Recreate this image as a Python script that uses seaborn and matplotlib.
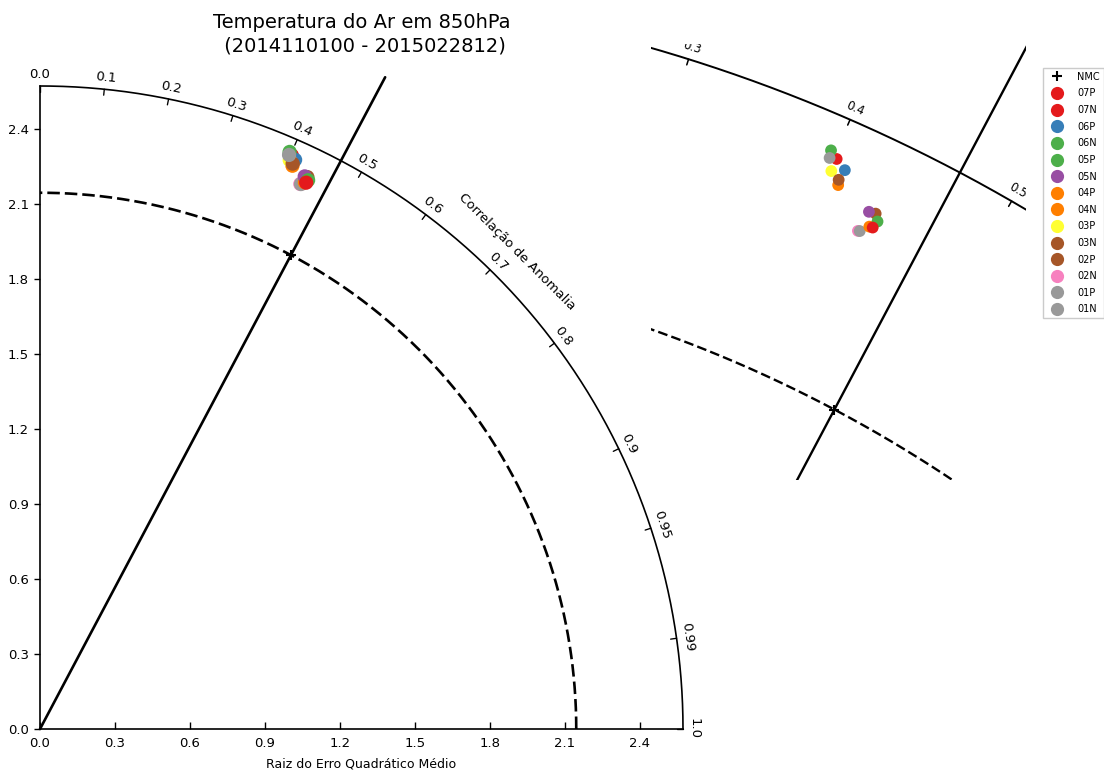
import numpy as np
import pandas as pd
import matplotlib
matplotlib.use("Agg")
import matplotlib.pyplot as plt
import seaborn as sns
from matplotlib.lines import Line2D

# ---------------- data ----------------
title = "Temperatura do Ar em 850hPa\n (2014110100 - 2015022812)"
xlabel = "Raiz do Erro Quadrático Médio"
corr_axis_label = "Correlação de Anomalia"

labels = ["07P", "07N", "06P", "06N", "05P", "05N", "04P", "04N",
          "03P", "03N", "02P", "02N", "01P", "01N"]
colors = ["#e41a1c", "#e41a1c", "#377eb8", "#4daf4a", "#4daf4a", "#984ea3",
          "#ff7f00", "#ff7f00", "#ffff33", "#a65628", "#a65628", "#f781bf",
          "#999999", "#999999"]
stddev = [2.506, 2.431, 2.495, 2.443, 2.515, 2.451, 2.469, 2.430,
          2.485, 2.453, 2.477, 2.416, 2.503, 2.417]
corrcoef = [0.402, 0.438, 0.409, 0.439, 0.397, 0.432, 0.409, 0.436,
            0.402, 0.436, 0.408, 0.431, 0.398, 0.432]
draw_order = ["07P", "06P", "05P", "04P", "03P", "02P", "01P",
              "02N", "01N", "03N", "04N", "05N", "06N", "07N"]

ref_label = "NMC"
ref_std = 2.145
ref_corr = 0.468
max_std = 2.572

rmse_ticks = [0.0, 0.3, 0.6, 0.9, 1.2, 1.5, 1.8, 2.1, 2.4]
rmse_ticklabels = ["0.0", "0.3", "0.6", "0.9", "1.2", "1.5", "1.8", "2.1", "2.4"]
corr_ticks = [0.0, 0.1, 0.2, 0.3, 0.4, 0.5, 0.6, 0.7, 0.8, 0.9, 0.95, 0.99, 1.0]
corr_ticklabels = ["0.0", "0.1", "0.2", "0.3", "0.4", "0.5", "0.6", "0.7",
                   "0.8", "0.9", "0.95", "0.99", "1.0"]

# zoom window (data units)
zoom_xlim = (0.7118, 1.3089)
zoom_ylim = (1.7834, 2.4777)

# ---------------- style ----------------
sns.set_style("white")
plt.rcParams["font.family"] = ["DejaVu Sans"]
plt.rcParams["lines.scale_dashes"] = False
for k in ["text.color", "axes.labelcolor", "xtick.color", "ytick.color",
          "axes.edgecolor"]:
    plt.rcParams[k] = "black"

color_map = dict(zip(labels, colors))
df = pd.DataFrame({"label": labels, "std": stddev, "corr": corrcoef})
df["theta"] = np.arccos(df["corr"])
df["x"] = df["std"] * np.cos(df["theta"])
df["y"] = df["std"] * np.sin(df["theta"])
df = df.set_index("label").loc[draw_order].reset_index()

fig = plt.figure(figsize=(11.04, 7.72), dpi=100)
W, H = 1104, 772
ax = fig.add_axes([40 / W, 43 / H, 643 / W, 643 / H])
axz = fig.add_axes([651 / W, (H - 480) / H, 375 / W, 436 / H])


def draw_frame(a, tick_len, label_off, fs, arc_lw, line_lw, dash, ref_ms,
               clip, line_r, window=None):
    t = np.linspace(0, np.pi / 2, 400)
    a.plot(max_std * np.cos(t), max_std * np.sin(t), color="black",
           lw=arc_lw, clip_on=clip, zorder=2)
    a.plot(ref_std * np.cos(t), ref_std * np.sin(t), color="black",
           lw=line_lw, ls=(0, dash), clip_on=clip, zorder=2)
    th_ref = np.arccos(ref_corr)
    a.plot([0, line_r * np.cos(th_ref)], [0, line_r * np.sin(th_ref)],
           color="black", lw=line_lw, clip_on=clip, zorder=2)
    for c, lab in zip(corr_ticks, corr_ticklabels):
        th = np.arccos(c)
        r = max_std + label_off
        lx, ly = r * np.cos(th), r * np.sin(th)
        if window is not None:
            (x0, x1), (y0, y1) = window
            if not (x0 < lx < x1 and y0 < ly < y1):
                continue
        a.plot([(max_std - tick_len) * np.cos(th), max_std * np.cos(th)],
               [(max_std - tick_len) * np.sin(th), max_std * np.sin(th)],
               color="black", lw=arc_lw * 0.8, clip_on=clip, zorder=2)
        a.text(lx, ly, lab, fontsize=fs,
               rotation=np.degrees(th) - 90, rotation_mode="anchor",
               ha="center", va="center", clip_on=clip)
    a.plot([ref_std * np.cos(th_ref)], [ref_std * np.sin(th_ref)],
           marker="+", color="black", ms=ref_ms, mew=1.5, ls="none",
           clip_on=clip, zorder=5)


# ---------------- main panel ----------------
ax.set_xlim(0, max_std)
ax.set_ylim(0, max_std)
for s in ["top", "right"]:
    ax.spines[s].set_visible(False)
for s in ["left", "bottom"]:
    ax.spines[s].set_linewidth(1.2)
    ax.spines[s].set_color("black")
ax.set_xticks(rmse_ticks)
ax.set_xticklabels(rmse_ticklabels)
ax.set_yticks(rmse_ticks)
ax.set_yticklabels(rmse_ticklabels)
ax.tick_params(axis="x", direction="in", length=5, width=1, labelsize=9.5,
               pad=6, bottom=True, colors="black")
ax.tick_params(axis="y", direction="out", length=4, width=1, labelsize=9.5,
               pad=4, left=True, colors="black")
ax.set_title(title, fontsize=14, pad=25, color="black", linespacing=1.3)

draw_frame(ax, tick_len=0.024, label_off=0.045, fs=9.5, arc_lw=1.2,
           line_lw=1.9, dash=(9, 3.6), ref_ms=7, clip=False, line_r=2.95)
th45 = np.radians(45)
ax.text(2.70 * np.cos(th45), 2.70 * np.sin(th45), corr_axis_label,
        fontsize=9.5, rotation=-45, rotation_mode="anchor", ha="center",
        va="center")

sns.scatterplot(data=df, x="x", y="y", hue="label", palette=color_map,
                s=105, linewidth=0, legend=False, ax=ax, zorder=4)
ax.set_xlabel(xlabel, fontsize=9, labelpad=5, color="black")
ax.set_ylabel("")

# ---------------- zoom panel ----------------
axz.set_xlim(*zoom_xlim)
axz.set_ylim(*zoom_ylim)
draw_frame(axz, tick_len=0.0095, label_off=0.019, fs=8.5, arc_lw=1.4,
           line_lw=1.7, dash=(7, 3), ref_ms=7, clip=True, line_r=3.2,
           window=(zoom_xlim, zoom_ylim))
sns.scatterplot(data=df, x="x", y="y", hue="label", palette=color_map,
                s=72, linewidth=0, legend=False, ax=axz, zorder=4)
axz.set_xlim(*zoom_xlim)
axz.set_ylim(*zoom_ylim)
axz.axis("off")

# ---------------- legend ----------------
handles = [Line2D([], [], marker="+", color="black", ls="none", ms=7, mew=1.5,
                  label=ref_label)]
for lab, col in zip(labels, colors):
    handles.append(Line2D([], [], marker="o", color=col, ls="none", ms=9.5,
                          mec="none", label=lab))
leg = fig.legend(handles=handles, loc="upper left",
                 bbox_to_anchor=(1043 / W, 1 - 68 / H), borderaxespad=0,
                 fontsize=7, labelspacing=0.68, handlelength=2.0,
                 handletextpad=1.1, borderpad=0.4, frameon=True,
                 fancybox=False, edgecolor="0.75")

fig.savefig("out.png", dpi=100)
